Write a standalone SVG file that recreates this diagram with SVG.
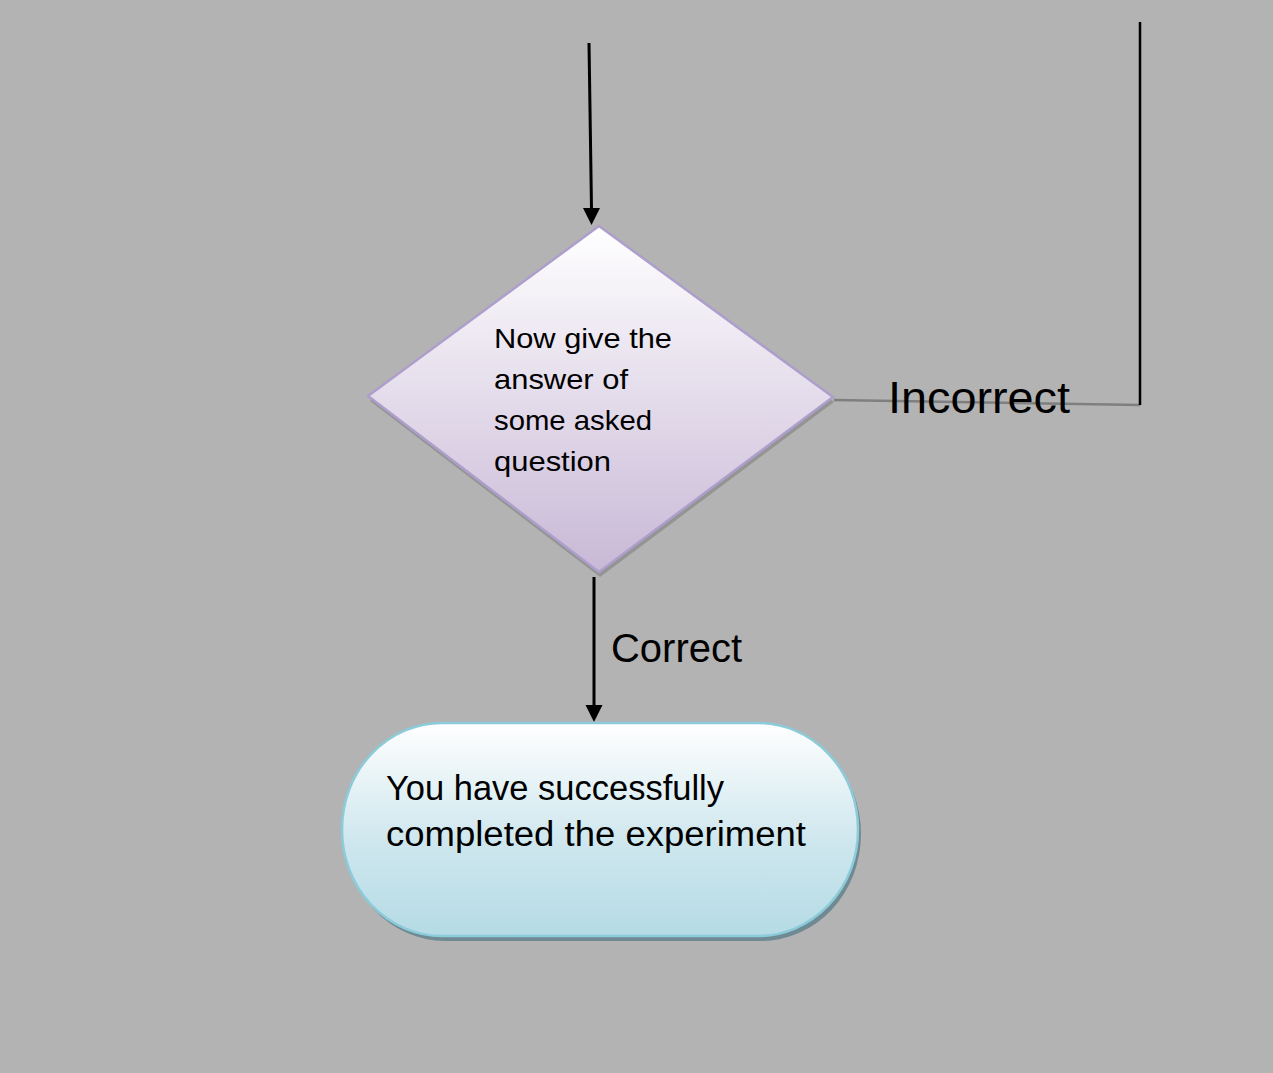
<svg xmlns="http://www.w3.org/2000/svg" width="1273" height="1073" viewBox="0 0 1273 1073">
<defs>
<linearGradient id="gDia" x1="0" y1="0" x2="0" y2="1">
<stop offset="0" stop-color="#ffffff"/>
<stop offset="1" stop-color="#c8b8d6"/>
</linearGradient>
<linearGradient id="gTerm" x1="0" y1="0" x2="0" y2="1">
<stop offset="0" stop-color="#ffffff"/>
<stop offset="0.55" stop-color="#cfe7ee"/>
<stop offset="1" stop-color="#b5dbe5"/>
</linearGradient>
<style>
.t{font-family:"Liberation Sans",Arial,sans-serif;fill:#000}
.ln{stroke:#000;stroke-width:3;fill:none}
.hd{fill:#000}
</style>
</defs>
<rect width="1273" height="1073" fill="#b3b3b3"/>
<g id="connectors">
<path class="ln" d="M589,43 L591.5,209"/>
<path class="hd" d="M583,208 L600,208 L591.5,225 Z"/>
<path d="M834,400 L1140,405" stroke="#7f7f7f" stroke-width="2.5" fill="none"/>
<path d="M1140,22 L1140,405" stroke="#000" stroke-width="2.5" fill="none"/>
<path class="ln" d="M594,577 L594,706"/>
<path class="hd" d="M585.5,705 L602.5,705 L594,722 Z"/>
<text class="t" x="888" y="413" font-size="44" textLength="182" lengthAdjust="spacingAndGlyphs">Incorrect</text>
<text class="t" x="611" y="662" font-size="40" textLength="131" lengthAdjust="spacingAndGlyphs">Correct</text>
</g>
<g id="decision">
<path d="M600,231 L834,402 L600,577 L370,401 Z" fill="#8c8c8c" opacity="0.8"/>
<path d="M599,226 L833,397 L599,572 L368,396 Z" fill="url(#gDia)" stroke="#ad9ecb" stroke-width="2.5"/>
<text class="t" font-size="28">
<tspan x="494" y="348" textLength="178" lengthAdjust="spacingAndGlyphs">Now give the</tspan>
<tspan x="494" y="389" textLength="134" lengthAdjust="spacingAndGlyphs">answer of</tspan>
<tspan x="494" y="430" textLength="158" lengthAdjust="spacingAndGlyphs">some asked</tspan>
<tspan x="494" y="471" textLength="117" lengthAdjust="spacingAndGlyphs">question</tspan>
</text>
</g>
<g id="terminal">
<rect x="345" y="727" width="516" height="214" rx="100" ry="107" fill="#6f8a92"/>
<rect x="342" y="723" width="516" height="213" rx="100" ry="106" fill="url(#gTerm)" stroke="#8ccbd9" stroke-width="2.5"/>
<text class="t" font-size="35">
<tspan x="386" y="800" textLength="338" lengthAdjust="spacingAndGlyphs">You have successfully</tspan>
<tspan x="386" y="846" textLength="420" lengthAdjust="spacingAndGlyphs">completed the experiment</tspan>
</text>
</g>
</svg>
